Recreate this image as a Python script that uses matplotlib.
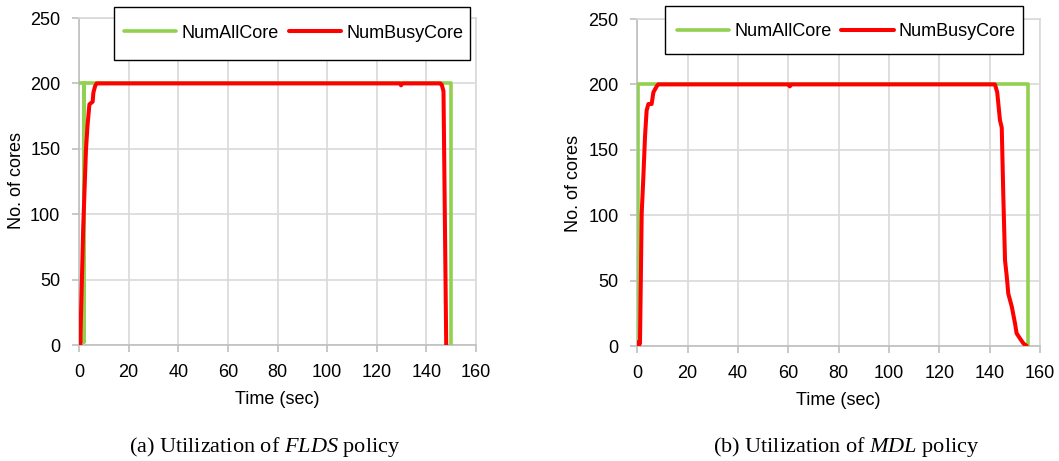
import matplotlib
matplotlib.use("Agg")
import matplotlib.pyplot as plt
from matplotlib.patches import Rectangle

plt.rcParams["font.family"] = ["Liberation Sans", "DejaVu Sans"]
plt.rcParams["mathtext.fontset"] = "custom"
plt.rcParams["mathtext.rm"] = "Liberation Serif"
plt.rcParams["mathtext.it"] = "Liberation Serif:italic"

# ---- (a) FLDS policy ----
flds_all_t = [0, 1.9, 1.9, 1.9, 150.0, 150.0]
flds_all_v = [200, 200, 2, 200, 200, 0]
flds_busy_t = [0.3, 0.5, 1.7, 2.8, 3.4, 4.2, 5.5, 5.8, 6.5, 7.1,
               129.3, 129.8, 130.3, 145.6, 146.2, 146.9, 148.0]
flds_busy_v = [15, 0, 90, 149, 167, 184, 186, 193, 198, 200,
               200, 198.5, 200, 200, 199, 194, 0]

# ---- (b) MDL policy ----
mdl_all_t = [0.3, 0.3, 155.3, 155.3]
mdl_all_v = [4, 200, 200, 0]
mdl_busy_t = [0.3, 0.4, 1.07, 1.74, 2.4, 3.06, 3.7, 4.4, 5.7, 6.4, 7.7, 8.3,
              60.2, 60.6, 61.0, 142.1, 143.0, 144.1, 144.8, 145.4, 146.1,
              146.8, 147.4, 148.8, 150.1, 150.7, 152.0, 153.4, 154.7]
mdl_busy_v = [3, 0, 2, 101, 129, 160, 180, 185, 185, 194, 198.5, 200,
              200, 198.5, 200, 200, 194, 172.5, 167, 116.6, 65.6,
              53, 40, 30, 17, 9.7, 5.9, 2, 0]

series_labels = ["NumAllCore", "NumBusyCore"]
captions = ["(a) Utilization of $\\mathit{FLDS}$ policy",
            "(b) Utilization of $\\mathit{MDL}$ policy"]
x_ticks = [0, 20, 40, 60, 80, 100, 120, 140, 160]
y_ticks = [0, 50, 100, 150, 200, 250]

GREEN = "#92D050"
RED = "#FF0000"
GRID = "#D9D9D9"
AXIS = "#BFBFBF"

W, H = 1059, 461
fig = plt.figure(figsize=(W / 100, H / 100), dpi=100)

# pixel layout of each panel: plot box, legend frame, legend entries anchor,
# axis-label centres and caption centre
panels = [
    dict(box=(79, 18, 476, 345), all=(flds_all_t, flds_all_v),
         busy=(flds_busy_t, flds_busy_v), frame=(114, 7, 470, 60),
         entries=(124, 33), xlab=(277, 399), ylab=(17, 180), cap=(265, 447)),
    dict(box=(637.3, 19, 1040, 346), all=(mdl_all_t, mdl_all_v),
         busy=(mdl_busy_t, mdl_busy_v), frame=(665, 6, 1023, 54),
         entries=(676.7, 31.5), xlab=(838, 400), ylab=(573, 183), cap=(846, 447)),
]

for p, cap in zip(panels, captions):
    x0, y0, x1, y1 = p["box"]
    ax = fig.add_axes([x0 / W, 1 - y1 / H, (x1 - x0) / W, (y1 - y0) / H])
    ax.plot(*p["all"], color=GREEN, lw=2.6, solid_joinstyle="round",
            solid_capstyle="round", label=series_labels[0], zorder=3)
    ax.plot(*p["busy"], color=RED, lw=2.9, solid_joinstyle="round",
            solid_capstyle="round", label=series_labels[1], zorder=4)
    ax.set_xlim(0, 160)
    ax.set_ylim(0, 250)
    ax.set_xticks(x_ticks)
    ax.set_yticks(y_ticks)
    ax.grid(True, color=GRID, lw=1.2, zorder=0)
    ax.set_axisbelow(True)
    for s in ("top", "right"):
        ax.spines[s].set_color(GRID)
        ax.spines[s].set_linewidth(1.2)
    for s in ("left", "bottom"):
        ax.spines[s].set_color(AXIS)
        ax.spines[s].set_linewidth(1.2)
    ax.tick_params(direction="out", length=5, width=1.2, color=AXIS,
                   labelsize=13, pad=8.5, labelcolor="black")

    ax.set_xlabel("Time (sec)", fontsize=13)
    ax.set_ylabel("No. of cores", fontsize=13)
    ax.xaxis.set_label_coords((p["xlab"][0] - x0) / (x1 - x0),
                              (y1 - p["xlab"][1]) / (y1 - y0))
    ax.xaxis.label.set_va("center")
    ax.yaxis.set_label_coords((p["ylab"][0] - x0) / (x1 - x0),
                              (y1 - p["ylab"][1]) / (y1 - y0))
    ax.yaxis.label.set_va("center")

    # legend frame drawn as its own box, entries placed inside it
    fx0, fy0, fx1, fy1 = p["frame"]
    fig.patches.append(Rectangle((fx0 / W, 1 - fy1 / H), (fx1 - fx0) / W,
                                 (fy1 - fy0) / H, transform=fig.transFigure,
                                 facecolor="white", edgecolor="black",
                                 lw=1.0, zorder=5))
    ex, ey = p["entries"]
    leg = fig.legend(*ax.get_legend_handles_labels(), loc="center left",
                     ncol=2, fontsize=13,
                     bbox_to_anchor=(ex / W, 1 - ey / H),
                     bbox_transform=fig.transFigure,
                     handlelength=2.9, handletextpad=0.28, columnspacing=0.55,
                     borderpad=0, borderaxespad=0, frameon=False)
    leg.set_zorder(10)

    fig.text(p["cap"][0] / W, 1 - p["cap"][1] / H, cap,
             family="Liberation Serif", fontsize=16, ha="center", va="center")

fig.savefig("out.png", dpi=100)
